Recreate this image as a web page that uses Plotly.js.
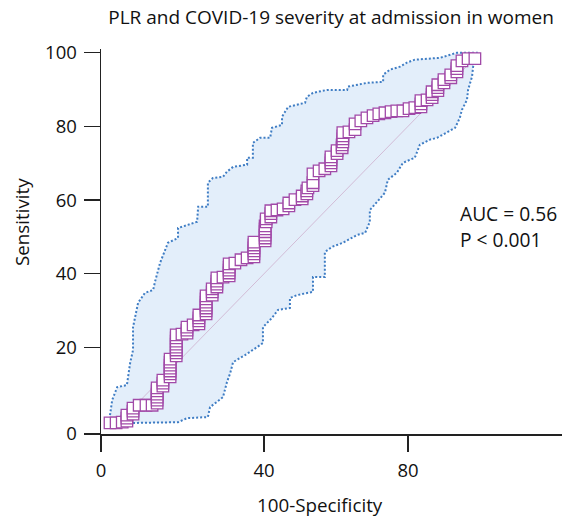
<!DOCTYPE html>
<html>
<head>
<meta charset="utf-8">
<script src="https://cdn.plot.ly/plotly-3.0.1.min.js"></script>
<style>html,body{margin:0;padding:0;background:#fff;}#chart{width:563px;height:519px;}</style>
</head>
<body>
<div id="chart"></div>
<script>
// ROC points (100-Specificity, Sensitivity)
const rocX = [-2.8,-1.1,0.6,1.9,1.9,1.9,3.6,3.6,3.6,5.3,7.2,8.9,10.3,10.3,10.3,10.3,10.3,10.3,11.9,11.9,11.9,13.9,13.9,13.9,13.9,13.9,13.9,13.9,15.6,15.6,15.6,15.6,15.6,15.6,15.6,15.6,17.2,18.6,18.6,18.6,20.3,21.9,21.9,21.9,21.9,23.9,23.9,23.9,23.9,23.9,23.9,23.9,25.6,25.6,25.6,26.9,26.9,26.9,26.9,28.6,30.3,30.3,30.3,30.3,30.3,31.9,33.6,35.3,37.2,37.2,37.2,37.2,37.2,37.2,40.3,40.3,40.3,40.3,40.3,40.3,40.6,40.6,41.9,41.9,41.9,43.6,45.3,46.9,46.9,48.6,50.6,50.6,51.9,51.9,52.2,53.6,53.6,53.6,55.3,56.9,58.6,58.6,58.6,58.6,60.3,60.3,61.7,61.7,61.9,61.9,61.9,61.9,63.6,65.3,65.3,66.9,68.6,70.3,71.9,73.6,75.3,76.9,78.6,80.3,81.9,83.6,83.6,83.6,85.3,86.7,86.7,86.7,88.3,88.3,88.3,90.0,90.0,91.9,91.9,93.6,93.6,93.6,95.0,96.7,98.6];
const rocY = [-0.5,-0.5,-0.3,0,0.8,1.6,1.9,2.7,3.5,4.3,4.3,4.3,4.9,5.7,6.5,7.3,8.2,9.0,9.5,10.3,11.1,12.0,12.8,13.6,14.4,15.2,16.0,16.8,17.7,18.5,19.3,20.1,20.9,21.7,22.6,23.4,23.6,23.9,24.7,25.5,26.1,26.4,27.2,28.0,28.8,29.1,29.9,30.7,31.5,32.3,33.2,34.0,34.2,35.1,35.9,36.4,37.2,38.0,38.9,39.1,39.4,40.2,41.0,41.8,42.7,42.9,43.8,44.3,44.6,45.4,46.2,47.0,47.8,48.6,48.9,49.7,50.5,51.4,52.2,53.0,54.1,54.9,55.4,56.3,57.1,57.3,57.6,58.4,59.2,60.1,60.3,61.1,61.7,62.5,63.3,63.9,64.7,67.1,67.9,68.5,69.3,70.1,70.9,71.7,72.6,73.4,74.2,75.0,75.8,76.6,77.4,78.3,78.5,79.1,80.7,81.5,82.3,82.9,83.4,83.7,84.0,84.2,84.2,84.8,85.1,85.3,86.1,87.0,87.2,87.8,88.6,89.4,89.7,90.5,91.3,91.8,92.7,93.2,94.0,94.8,95.7,96.5,97.8,98.4,98.4];

// 95% confidence band, upper and lower limits
const upX = [-2.8,-2.2,-0.8,1.9,2.8,3.6,3.6,5.0,6.9,9.2,9.7,11.1,13.3,16.1,16.1,18.6,21.4,21.7,24.4,24.4,25.8,28.6,29.7,31.4,35.3,35.3,36.9,36.9,38.9,41.7,42.2,45.0,45.0,46.7,51.4,51.9,53.6,57.5,63.1,63.3,68.6,73.1,73.1,75.0,77.8,79.7,81.9,88.9,92.2,93.6,99.4];
const upY = [1.6,5.7,9.2,9.8,15.8,19.3,25.5,32.1,34.8,35.6,37.8,42.9,48.4,49.7,52.4,53.3,54.1,58.2,58.2,64.7,66.0,66.3,67.7,69.0,69.6,71.5,71.5,75.5,76.9,76.9,79.6,80.4,82.6,85.3,86.4,88.0,89.1,89.9,89.9,90.8,91.8,92.1,94.0,95.4,96.2,97.3,98.1,98.6,99.5,100,100];
const loX = [3.6,13.1,16.1,18.6,22.2,24.4,25.0,26.9,28.6,29.7,30.6,31.4,34.7,38.1,39.7,39.7,42.2,43.9,47.2,47.2,49.2,53.6,53.6,56.9,56.9,58.9,61.9,65.8,68.1,69.4,69.4,71.4,73.6,74.4,76.9,78.6,81.9,83.3,86.1,88.1,90.8,93.1,94.4,95.0,96.4,96.7,97.8,98.1,99.4];
const loY = [-0.5,-0.5,-0.3,0.8,1.1,1.1,3.8,5.2,6.5,10.6,13.0,16.0,17.9,20.1,21.2,25.5,28.0,30.2,30.7,33.4,34.2,35.1,39.1,39.1,45.9,47.3,48.4,50.5,51.1,54.1,57.3,59.5,62.0,65.5,67.4,70.1,71.5,75.0,76.4,76.9,78.3,79.6,82.3,84.5,87.2,89.9,93.5,96.2,99.2];

// reference diagonal
const diagX = [0, 100];
const diagY = [0, 100];

// axis ticks (the "0" ticks sit at the axis corner)
const xTickVals = [-5.3, 40, 80];
const xTickText = ['0', '40', '80'];
const yTickVals = [-3.5, 20, 40, 60, 80, 100];
const yTickText = ['0', '20', '40', '60', '80', '100'];

const titleText = 'PLR and COVID-19 severity at admission in women';
const xTitle = '100-Specificity';
const yTitle = 'Sensitivity';
const aucLine = 'AUC = 0.56';
const pLine = 'P &lt; 0.001';

const FONT = '"Open Sans", "Noto Sans", sans-serif';
const INK = '#111';

const bandX = upX.concat(loX.slice().reverse());
const bandY = upY.concat(loY.slice().reverse());

const traces = [
  {x: bandX, y: bandY, type: 'scatter', mode: 'lines', fill: 'toself',
   fillcolor: '#e3eefa', line: {width: 0}, hoverinfo: 'skip', showlegend: false},
  {x: upX, y: upY, type: 'scatter', mode: 'lines',
   line: {color: '#3f7dc4', width: 2, dash: '2px,2px'}, showlegend: false},
  {x: loX, y: loY, type: 'scatter', mode: 'lines',
   line: {color: '#3f7dc4', width: 2, dash: '2px,2px'}, showlegend: false},
  {x: diagX, y: diagY, type: 'scatter', mode: 'lines',
   line: {color: '#d2bcd6', width: 1}, showlegend: false},
  {x: rocX, y: rocY, type: 'scatter', mode: 'markers',
   marker: {symbol: 'square', size: 11.5, color: '#ffffff',
            line: {color: '#a14aa8', width: 1.3}}, showlegend: false}
];

const layout = {
  width: 563, height: 519,
  margin: {l: 101, r: 1, t: 49, b: 85},
  paper_bgcolor: '#fff', plot_bgcolor: '#fff',
  font: {family: FONT, size: 19, color: INK},
  showlegend: false,
  title: {text: titleText, x: 0.588, xanchor: 'center', y: 0.967, yanchor: 'middle',
          font: {family: FONT, size: 19, color: INK}},
  xaxis: {range: [-5.3, 122.8], tickvals: xTickVals, ticktext: xTickText,
          ticks: 'outside', ticklen: 16, tickwidth: 1.5, tickcolor: '#222',
          showline: true, linewidth: 1.5, linecolor: '#222',
          showgrid: false, zeroline: false, ticklabelstandoff: 3,
          tickfont: {family: FONT, size: 18.5, color: INK}},
  yaxis: {range: [-3.5, 101], tickvals: yTickVals, ticktext: yTickText,
          ticks: 'outside', ticklen: 16, tickwidth: 1.5, tickcolor: '#222',
          showline: true, linewidth: 1.5, linecolor: '#222',
          showgrid: false, zeroline: false, ticklabelstandoff: 3,
          tickfont: {family: FONT, size: 18.5, color: INK}},
  annotations: [
    {text: xTitle, xref: 'paper', yref: 'paper', x: 0.475, y: -0.184,
     xanchor: 'center', yanchor: 'middle', showarrow: false,
     font: {family: FONT, size: 18.8, color: INK}},
    {text: yTitle, xref: 'paper', yref: 'paper', x: -0.171, y: 0.551, textangle: -90,
     xanchor: 'center', yanchor: 'middle', showarrow: false,
     font: {family: FONT, size: 18.8, color: INK}},
    {text: aucLine, xref: 'paper', yref: 'paper', x: 0.774, y: 0.574,
     xanchor: 'left', yanchor: 'middle', showarrow: false,
     font: {family: FONT, size: 19.2, color: INK}},
    {text: pLine, xref: 'paper', yref: 'paper', x: 0.774, y: 0.506,
     xanchor: 'left', yanchor: 'middle', showarrow: false,
     font: {family: FONT, size: 19.2, color: INK}}
  ]
};

Plotly.newPlot('chart', traces, layout, {displayModeBar: false, staticPlot: true});
</script>
</body>
</html>
